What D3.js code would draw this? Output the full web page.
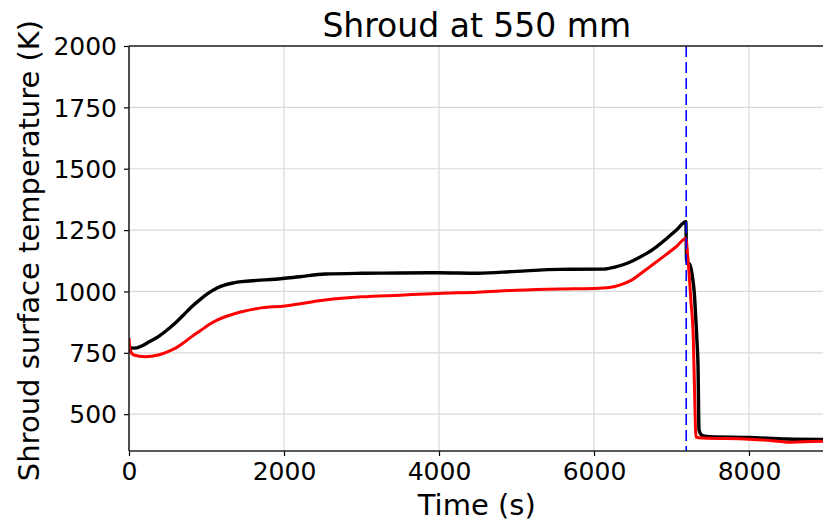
<!DOCTYPE html>
<html>
<head>
<meta charset="utf-8">
<script src="https://cdn.jsdelivr.net/npm/d3@7"></script>
<style>
  html, body { margin: 0; padding: 0; background: #ffffff; }
  svg { display: block; }
  text { font-family: "DejaVu Sans", sans-serif; fill: #000; }
</style>
</head>
<body>
<svg id="chart" width="823" height="522"></svg>
<script>
// ---- data ----
const titleText = "Shroud at 550 mm";
const xLabel = "Time (s)";
const yLabel = "Shroud surface temperature (K)";
const xTicks = [0, 2000, 4000, 6000, 8000];
const yTicks = [500, 750, 1000, 1250, 1500, 1750, 2000];
const eventTime = 7190;

const blackTime = [0, 34, 100, 163, 260, 378, 480, 594, 700, 809, 920, 1024, 1130, 1239, 1350, 1454, 1650, 1884, 2200, 2529, 3000, 3500, 4000, 4500, 5000, 5561, 6120, 6280, 6421, 6550, 6680, 6810, 6938, 7060, 7185, 7195, 7239, 7270, 7295, 7315, 7330, 7342, 7355, 7380, 7410, 7500, 8000, 8487, 9000];
const blackTemp = [780, 769, 770, 778, 795, 816, 840, 870, 903, 938, 968, 993, 1013, 1027, 1035, 1040, 1045, 1050, 1060, 1071, 1074, 1075, 1076, 1074, 1082, 1090, 1091, 1100, 1114, 1133, 1155, 1183, 1216, 1249, 1284, 1125, 1108, 1060, 990, 880, 790, 700, 436, 418, 411, 408, 405, 399, 397];

const redTime = [0, 15, 60, 206, 378, 480, 594, 700, 809, 920, 1024, 1130, 1239, 1350, 1454, 1668, 2013, 2529, 3000, 3500, 4000, 4500, 5000, 5561, 6000, 6200, 6350, 6485, 6600, 6723, 6938, 7060, 7185, 7210, 7250, 7282, 7300, 7316, 7400, 8000, 8300, 8487, 8700, 9000];
const redTemp = [810, 760, 741, 734, 741, 752, 768, 790, 816, 840, 863, 882, 897, 908, 917, 931, 941, 965, 978, 985, 992, 997, 1005, 1010, 1012, 1016, 1028, 1046, 1072, 1101, 1152, 1182, 1216, 1141, 965, 802, 560, 406, 403, 398, 392, 386, 388, 390];

// ---- layout ----
const svg = d3.select("#chart");
const L = 129, R = 826.5, T = 46, B = 451;
const x = d3.scaleLinear().domain([0, 9000]).range([L, R]);
const y = d3.scaleLinear().domain([350, 2000]).range([B, T]);

svg.append("defs").append("clipPath").attr("id", "clip")
  .append("rect").attr("x", L).attr("y", T).attr("width", R - L).attr("height", B - T);

// grid
const grid = svg.append("g");
grid.selectAll("line.gx").data(xTicks.filter(d => d > 0)).enter().append("line")
  .attr("x1", d => x(d)).attr("x2", d => x(d)).attr("y1", T).attr("y2", B)
  .attr("stroke", "#d9d9d9").attr("stroke-width", 1.2);
grid.selectAll("line.gy").data(yTicks).enter().append("line")
  .attr("x1", L).attr("x2", R).attr("y1", d => y(d)).attr("y2", d => y(d))
  .attr("stroke", "#d9d9d9").attr("stroke-width", 1.2);

// lines
const plot = svg.append("g").attr("clip-path", "url(#clip)");
const line = d3.line().x(d => x(d[0])).y(d => y(d[1])).curve(d3.curveMonotoneX);
const blackData = blackTime.map((t, i) => [t, blackTemp[i]]);
const redData = redTime.map((t, i) => [t, redTemp[i]]);
plot.append("path").datum(blackData).attr("d", line)
  .attr("fill", "none").attr("stroke", "#000").attr("stroke-width", 3.4).attr("stroke-linejoin", "round");
plot.append("path").datum(redData).attr("d", line)
  .attr("fill", "none").attr("stroke", "#ff0000").attr("stroke-width", 3).attr("stroke-linejoin", "round");
plot.append("line")
  .attr("x1", x(eventTime)).attr("x2", x(eventTime)).attr("y1", T).attr("y2", B)
  .attr("stroke", "#0000ff").attr("stroke-width", 1.6).attr("stroke-dasharray", "11,5");

// axes
const xAxis = d3.axisBottom(x).tickValues(xTicks).tickFormat(d3.format("d")).tickSize(5).tickPadding(6);
const yAxis = d3.axisLeft(y).tickValues(yTicks).tickFormat(d3.format("d")).tickSize(5).tickPadding(7);
const gx = svg.append("g").attr("transform", `translate(0,${B})`).call(xAxis);
const gy = svg.append("g").attr("transform", `translate(${L},0)`).call(yAxis);
[gx, gy].forEach(g => {
  g.select(".domain").remove();
  g.selectAll(".tick line").attr("stroke", "#000").attr("stroke-width", 1.2);
  g.selectAll(".tick text").attr("font-size", 25).attr("font-family", "DejaVu Sans").attr("fill", "#000");
});
gy.selectAll(".tick text").attr("dy", "0.35em");

// spines
svg.append("line").attr("x1", L).attr("x2", L).attr("y1", T).attr("y2", B).attr("stroke", "#222").attr("stroke-width", 1.6);
svg.append("line").attr("x1", L).attr("x2", R).attr("y1", B).attr("y2", B).attr("stroke", "#222").attr("stroke-width", 1.6);
svg.append("line").attr("x1", L).attr("x2", R).attr("y1", T).attr("y2", T).attr("stroke", "#222").attr("stroke-width", 1.6);

// labels
svg.append("text").attr("x", (L + R) / 2 - 1).attr("y", 37).attr("text-anchor", "middle")
  .attr("font-size", 33).text(titleText);
svg.append("text").attr("x", (L + R) / 2 - 1).attr("y", 515).attr("text-anchor", "middle")
  .attr("font-size", 29).text(xLabel);
svg.append("text").attr("transform", `translate(39,${(T + B) / 2 + 2}) rotate(-90)`)
  .attr("text-anchor", "middle").attr("font-size", 29).text(yLabel);
</script>
</body>
</html>
